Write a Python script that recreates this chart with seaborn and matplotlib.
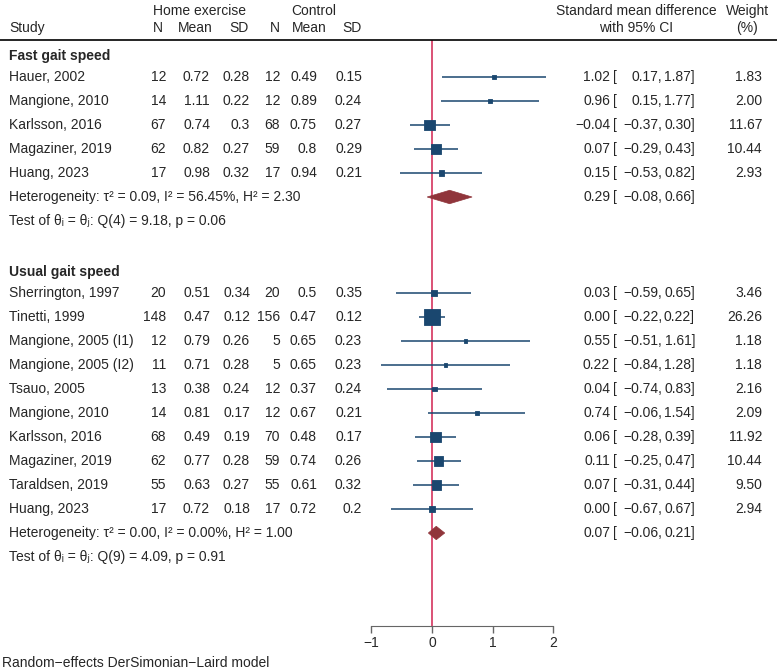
import numpy as np
import matplotlib
matplotlib.use("Agg")
import matplotlib.pyplot as plt
import matplotlib.transforms as mtransforms
from matplotlib.patches import Polygon
import pandas as pd
import seaborn as sns

# Fast gait speed studies
fast_study = ["Hauer, 2002", "Mangione, 2010", "Karlsson, 2016", "Magaziner, 2019", "Huang, 2023"]
fast_n1 = [12, 14, 67, 62, 17]
fast_m1 = [0.72, 1.11, 0.74, 0.82, 0.98]
fast_sd1 = [0.28, 0.22, 0.3, 0.27, 0.32]
fast_n2 = [12, 12, 68, 59, 17]
fast_m2 = [0.49, 0.89, 0.75, 0.8, 0.94]
fast_sd2 = [0.15, 0.24, 0.27, 0.29, 0.21]
fast_es = [1.02, 0.96, -0.04, 0.07, 0.15]
fast_lo = [0.17, 0.15, -0.37, -0.29, -0.53]
fast_hi = [1.87, 1.77, 0.30, 0.43, 0.82]
fast_w = [1.83, 2.00, 11.67, 10.44, 2.93]
fast_pool = [0.29, -0.08, 0.66]
fast_het = "Heterogeneity: τ² = 0.09, I² = 56.45%, H² = 2.30"
fast_test = "Test of θᵢ = θⱼ: Q(4) = 9.18, p = 0.06"

# Usual gait speed studies
usual_study = ["Sherrington, 1997", "Tinetti, 1999", "Mangione, 2005 (I1)", "Mangione, 2005 (I2)",
               "Tsauo, 2005", "Mangione, 2010", "Karlsson, 2016", "Magaziner, 2019",
               "Taraldsen, 2019", "Huang, 2023"]
usual_n1 = [20, 148, 12, 11, 13, 14, 68, 62, 55, 17]
usual_m1 = [0.51, 0.47, 0.79, 0.71, 0.38, 0.81, 0.49, 0.77, 0.63, 0.72]
usual_sd1 = [0.34, 0.12, 0.26, 0.28, 0.24, 0.17, 0.19, 0.28, 0.27, 0.18]
usual_n2 = [20, 156, 5, 5, 12, 12, 70, 59, 55, 17]
usual_m2 = [0.5, 0.47, 0.65, 0.65, 0.37, 0.67, 0.48, 0.74, 0.61, 0.72]
usual_sd2 = [0.35, 0.12, 0.23, 0.23, 0.24, 0.21, 0.17, 0.26, 0.32, 0.2]
usual_es = [0.03, 0.00, 0.55, 0.22, 0.04, 0.74, 0.06, 0.11, 0.07, 0.00]
usual_lo = [-0.59, -0.22, -0.51, -0.84, -0.74, -0.06, -0.28, -0.25, -0.31, -0.67]
usual_hi = [0.65, 0.22, 1.61, 1.28, 0.83, 1.54, 0.39, 0.47, 0.44, 0.67]
usual_w = [3.46, 26.26, 1.18, 1.18, 2.16, 2.09, 11.92, 10.44, 9.50, 2.94]
usual_pool = [0.07, -0.06, 0.21]
usual_het = "Heterogeneity: τ² = 0.00, I² = 0.00%, H² = 1.00"
usual_test = "Test of θᵢ = θⱼ: Q(9) = 4.09, p = 0.91"

x_ticks = [-1, 0, 1, 2]

groups = [
    ("Fast gait speed", fast_study, fast_n1, fast_m1, fast_sd1, fast_n2, fast_m2, fast_sd2,
     fast_es, fast_lo, fast_hi, fast_w, fast_pool, fast_het, fast_test),
    ("Usual gait speed", usual_study, usual_n1, usual_m1, usual_sd1, usual_n2, usual_m2, usual_sd2,
     usual_es, usual_lo, usual_hi, usual_w, usual_pool, usual_het, usual_test),
]

BLUE = "#1a476f"
MAROON = "#90353b"
REDLINE = "#d8436a"
FS = 10

sns.set_style("white")
plt.rcParams["font.family"] = ["Liberation Sans", "DejaVu Sans"]

W, H = 777, 672
fig = plt.figure(figsize=(W / 100, H / 100), dpi=100)
ax = fig.add_axes([350 / W, 1 - 626 / H, 230 / W, 626 / H])

# row index -> pixel y = 53 + 24 * row
r_top = -53 / 24
r_bot = (626 - 53) / 24
ax.set_ylim(r_bot, r_top)
ax.set_xlim((350 - 432) / 60.7, (580 - 432) / 60.7)

tr = mtransforms.blended_transform_factory(fig.transFigure, ax.transData)


def put(xpix, row, s, ha="right", **kw):
    ax.text(xpix / W, row, s, transform=tr, ha=ha, va="center", fontsize=FS, clip_on=False, **kw)


def fmt(v):
    return f"{v:.2f}".replace("-", "−")


# header
put(199, -1.75, "Home exercise", ha="center")
put(314, -1.75, "Control", ha="center")
put(9, -1.04, "Study", ha="left")
put(163, -1.04, "N", ha="right")
put(213, -1.04, "Mean", ha="right")
put(249, -1.04, "SD", ha="right")
put(280, -1.04, "N", ha="right")
put(327, -1.04, "Mean", ha="right")
put(362, -1.04, "SD", ha="right")
put(636, -1.75, "Standard mean difference", ha="center")
put(636, -1.04, "with 95% CI", ha="center")
put(748, -1.75, "Weight", ha="center")
put(747, -1.04, "(%)", ha="center")
fig.add_artist(plt.Line2D([0, 1], [1 - 40 / H, 1 - 40 / H], color="black", lw=1.2))

rows = []
row = 0
for (name, study, n1, m1, sd1, n2, m2, sd2, es, lo, hi, w, pool, het, test) in groups:
    put(9, row + 0.12, name, ha="left", fontweight="bold")
    row += 1
    for i in range(len(study)):
        rows.append({"row": row, "es": es[i], "lo": lo[i], "hi": hi[i], "w": w[i]})
        put(9, row, study[i], ha="left")
        put(166, row, str(n1[i]))
        put(210, row, str(m1[i]))
        put(250, row, str(sd1[i]))
        put(280, row, str(n2[i]))
        put(317, row, str(m2[i]))
        put(362, row, str(sd2[i]))
        put(610, row, fmt(es[i]))
        put(613, row, "[", ha="left")
        put(662, row, fmt(lo[i]) + ",")
        put(695, row, fmt(hi[i]) + "]")
        put(762, row, f"{w[i]:.2f}")
        row += 1
    # pooled diamond
    est, plo, phi = pool
    hh = 0.28
    ax.add_patch(Polygon([[plo, row], [est, row - hh], [phi, row], [est, row + hh]],
                         closed=True, facecolor=MAROON, edgecolor=MAROON, lw=0.5, zorder=4))
    put(9, row, het, ha="left")
    put(610, row, fmt(est))
    put(613, row, "[", ha="left")
    put(662, row, fmt(plo) + ",")
    put(695, row, fmt(phi) + "]")
    row += 1
    put(9, row, test, ha="left")
    row += 2

df = pd.DataFrame(rows)

ax.vlines(0, -0.54, r_bot, color=REDLINE, lw=1.3, zorder=1)
ax.hlines(df["row"], df["lo"], df["hi"], color=BLUE, lw=1.1, zorder=2)
sns.scatterplot(data=df, x="es", y="row", size="w", sizes=(0, 4.6 * 26.26),
                size_norm=(0, 26.26), marker="s", color=BLUE, edgecolor=BLUE,
                linewidth=0.6, legend=False, ax=ax, zorder=3)
ax.set_ylim(r_bot, r_top)

ax.set_xticks(x_ticks)
ax.set_xticklabels([str(t).replace("-", "−") for t in x_ticks], fontsize=FS)
ax.set_xlabel("")
ax.set_ylabel("")
ax.set_yticks([])
for s in ["top", "left", "right"]:
    ax.spines[s].set_visible(False)
ax.spines["bottom"].set_bounds(-1, 2)
ax.spines["bottom"].set_color("#666666")
ax.tick_params(axis="x", direction="out", length=5, width=1, color="#666666", pad=2, bottom=True)

fig.text(2 / W, 1 - 663 / H, "Random−effects DerSimonian−Laird model", ha="left", va="center", fontsize=FS)

fig.savefig("out.png", dpi=100)
